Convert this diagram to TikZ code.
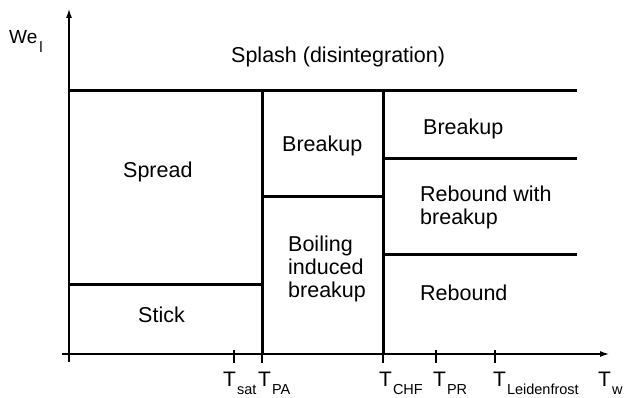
\documentclass[tikz,border=0pt]{standalone}
\usepackage{fontspec}
\setmainfont{Liberation Sans}
\usetikzlibrary{arrows.meta}
\begin{document}
\begin{tikzpicture}[x=1pt,y=-1pt,
  thickline/.style={line width=3pt},
  thinline/.style={line width=1.2pt},
  axisline/.style={line width=1.2pt,-{Latex[length=9pt,width=6pt]}},
  lbl/.style={anchor=base west,inner sep=0pt,font=\fontsize{21.5}{23}\selectfont},
  tlbl/.style={anchor=base west,inner sep=0pt,font=\fontsize{21}{23}\selectfont},
]
\useasboundingbox (0,0) rectangle (625,398);
% axes
\coordinate (yb) at (69,362);
\coordinate (yt) at (69,9);
\coordinate (xl) at (62,354);
\coordinate (xr) at (609,354);
\draw[axisline] (yb) -- (yt);
\draw[axisline] (xl) -- (xr);
% region boundaries
\coordinate (tl) at (69,91);
\coordinate (tr) at (577,91);
\coordinate (pa1) at (262,91);
\coordinate (pa2) at (262,354);
\coordinate (chf1) at (383,91);
\coordinate (chf2) at (383,354);
\coordinate (s1) at (69,285);
\coordinate (s2) at (262,285);
\coordinate (m1) at (262,197);
\coordinate (m2) at (383,197);
\coordinate (r1) at (383,159);
\coordinate (r2) at (577,159);
\coordinate (q1) at (383,255);
\coordinate (q2) at (577,255);
\draw[thickline] (tl) -- (tr);
\draw[thickline] (pa1) -- (pa2);
\draw[thickline] (chf1) -- (chf2);
\draw[thickline] (s1) -- (s2);
\draw[thickline] (m1) -- (m2);
\draw[thickline] (r1) -- (r2);
\draw[thickline] (q1) -- (q2);
% ticks
\foreach \n/\x in {sat/234,pa/262,chf/383,pr/436,lf/495}{
  \coordinate (tk\n a) at (\x,350);
  \coordinate (tk\n b) at (\x,363);
  \draw[thinline] (tk\n a) -- (tk\n b);
}
% region labels
\node[lbl] (splash) at (231,63) {Splash (disintegration)};
\node[lbl] (spread) at (123,178) {Spread};
\node[lbl] (stick) at (138,323) {Stick};
\node[lbl] (brk1) at (282,152) {Breakup};
\node[lbl] (brk2) at (423,135) {Breakup};
\node[lbl] (boil) at (288,252) {\begin{tabular}[t]{@{}l@{}}Boiling\\induced\\breakup\end{tabular}};
\node[lbl] (rwb) at (420,202) {\begin{tabular}[t]{@{}l@{}}Rebound with\\breakup\end{tabular}};
\node[lbl] (reb) at (420,301) {Rebound};
% axis labels
\node[anchor=base west,inner sep=0pt,font=\fontsize{19}{21}\selectfont] (we) at (9,44) {We\kern2pt\raisebox{-9pt}{\fontsize{15}{15}\selectfont l}};
\newcommand{\tsub}[1]{T\kern1pt\raisebox{-8pt}{\fontsize{14.5}{15}\selectfont #1}}
\node[tlbl] (tsat) at (223,387) {\tsub{sat}};
\node[tlbl] (tpa) at (258,387) {\tsub{PA}};
\node[tlbl] (tchf) at (379,387) {\tsub{CHF}};
\node[tlbl] (tpr) at (433,387) {\tsub{PR}};
\node[tlbl] (tlf) at (493,387) {\tsub{Leidenfrost}};
\node[tlbl] (tw) at (598,387) {\tsub{w}};
\end{tikzpicture}
\end{document}
